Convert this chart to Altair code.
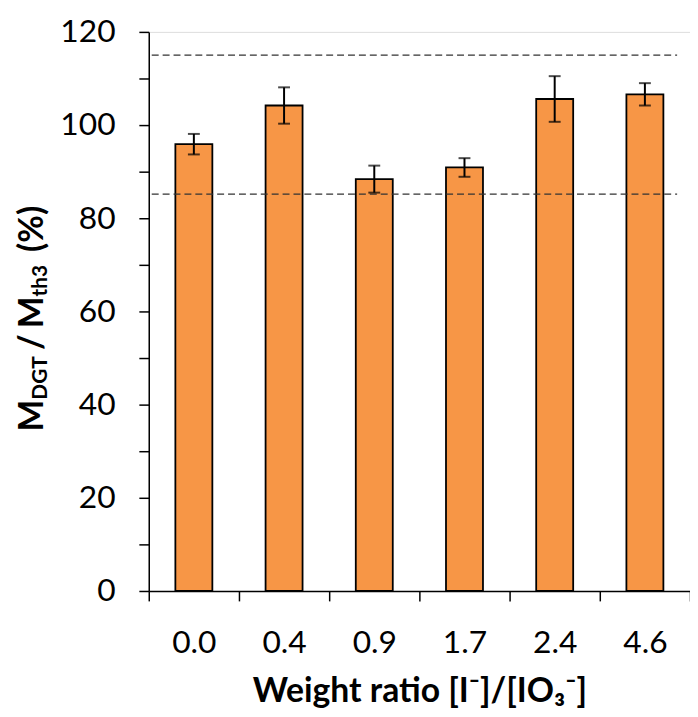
import altair as alt
import pandas as pd

# ---- data ----
ratios = ["0.0", "0.4", "0.9", "1.7", "2.4", "4.6"]
means = [95.9, 104.2, 88.4, 90.9, 105.6, 106.6]
errs = [2.2, 3.9, 2.9, 2.0, 4.9, 2.4]
ref_lines = [85.2, 115.0]
y_ticks = list(range(0, 121, 10))

df = pd.DataFrame({"ratio": ratios, "mean": means, "err": errs})
df["lo"] = df["mean"] - df["err"]
df["hi"] = df["mean"] + df["err"]
ref_df = pd.DataFrame({"v": ref_lines})

FONT = "Lato"
ORANGE = "#F79646"

x_axis = alt.Axis(
    title="Weight ratio [I⁻]/[IO₃⁻]",
    labelAngle=0,
    tickBand="extent",
    tickSize=10,
    tickWidth=1.5,
    tickColor="black",
    domainColor="black",
    domainWidth=1.5,
    labelFont=FONT,
    labelFontSize=32,
    labelColor="black",
    labelPadding=27,
    titleFont=FONT,
    titleFontSize=34,
    titleFontWeight="bold",
    titleColor="black",
    titlePadding=16,
)
y_axis = alt.Axis(
    title=None,
    values=y_ticks,
    labelExpr="datum.value % 20 == 0 ? datum.label : ''",
    tickSize=10,
    tickWidth=1.5,
    tickColor="black",
    domainColor="black",
    domainWidth=1.5,
    grid=False,
    labelFont=FONT,
    labelFontSize=32,
    labelColor="black",
    labelPadding=24,
)
x_scale = alt.Scale(paddingInner=0, paddingOuter=0)
y_scale = alt.Scale(domain=[0, 120], nice=False)


def xenc():
    return alt.X("ratio:N", sort=ratios, scale=x_scale, axis=x_axis)


def yenc(field):
    return alt.Y(field, type="quantitative", scale=y_scale, axis=y_axis)


bars = alt.Chart(df).mark_bar(
    width=alt.RelativeBandSize(0.41), color=ORANGE, stroke="black", strokeWidth=1.8
).encode(x=xenc(), y=yenc("mean"))

err_rule = alt.Chart(df).mark_rule(color="black", strokeWidth=2).encode(
    x=xenc(), y=yenc("lo"), y2="hi:Q"
)
cap_lo = alt.Chart(df).mark_tick(color="black", size=12, thickness=2).encode(
    x=xenc(), y=yenc("lo")
)
cap_hi = alt.Chart(df).mark_tick(color="black", size=12, thickness=2).encode(
    x=xenc(), y=yenc("hi")
)

refs = alt.Chart(ref_df).mark_rule(color="#333333", strokeDash=[7, 4], strokeWidth=1.3).encode(
    y=yenc("v"), x=alt.value(3), x2=alt.value(533)
)

# y-axis title built from pieces (sub-scripts)
title_pieces = [
    ("M", 34, -107, 403),
    ("DGT", 21, -103, 371),
    ("/", 34, -107, 321),
    ("M", 34, -107, 299),
    ("th3", 21, -103, 267),
    ("(%)", 34, -107, 222),
]
title_layers = []
for txt, fs, px, py in title_pieces:
    title_layers.append(
        alt.Chart(alt.Data(values=[{}])).mark_text(
            text=txt, font=FONT, fontSize=fs, fontWeight="bold", angle=270,
            align="left", baseline="alphabetic", color="black",
        ).encode(x=alt.value(px), y=alt.value(py))
    )

chart = alt.layer(bars, refs, err_rule, cap_lo, cap_hi, *title_layers).properties(
    width=546,
    height=564,
    autosize=alt.AutoSizeParams(type="none"),
    padding={"left": 142, "top": 21, "right": 0, "bottom": 122},
).configure_view(strokeWidth=0).configure(background="white")

chart.save("out.html", embed_options={"renderer": "svg", "actions": False})
